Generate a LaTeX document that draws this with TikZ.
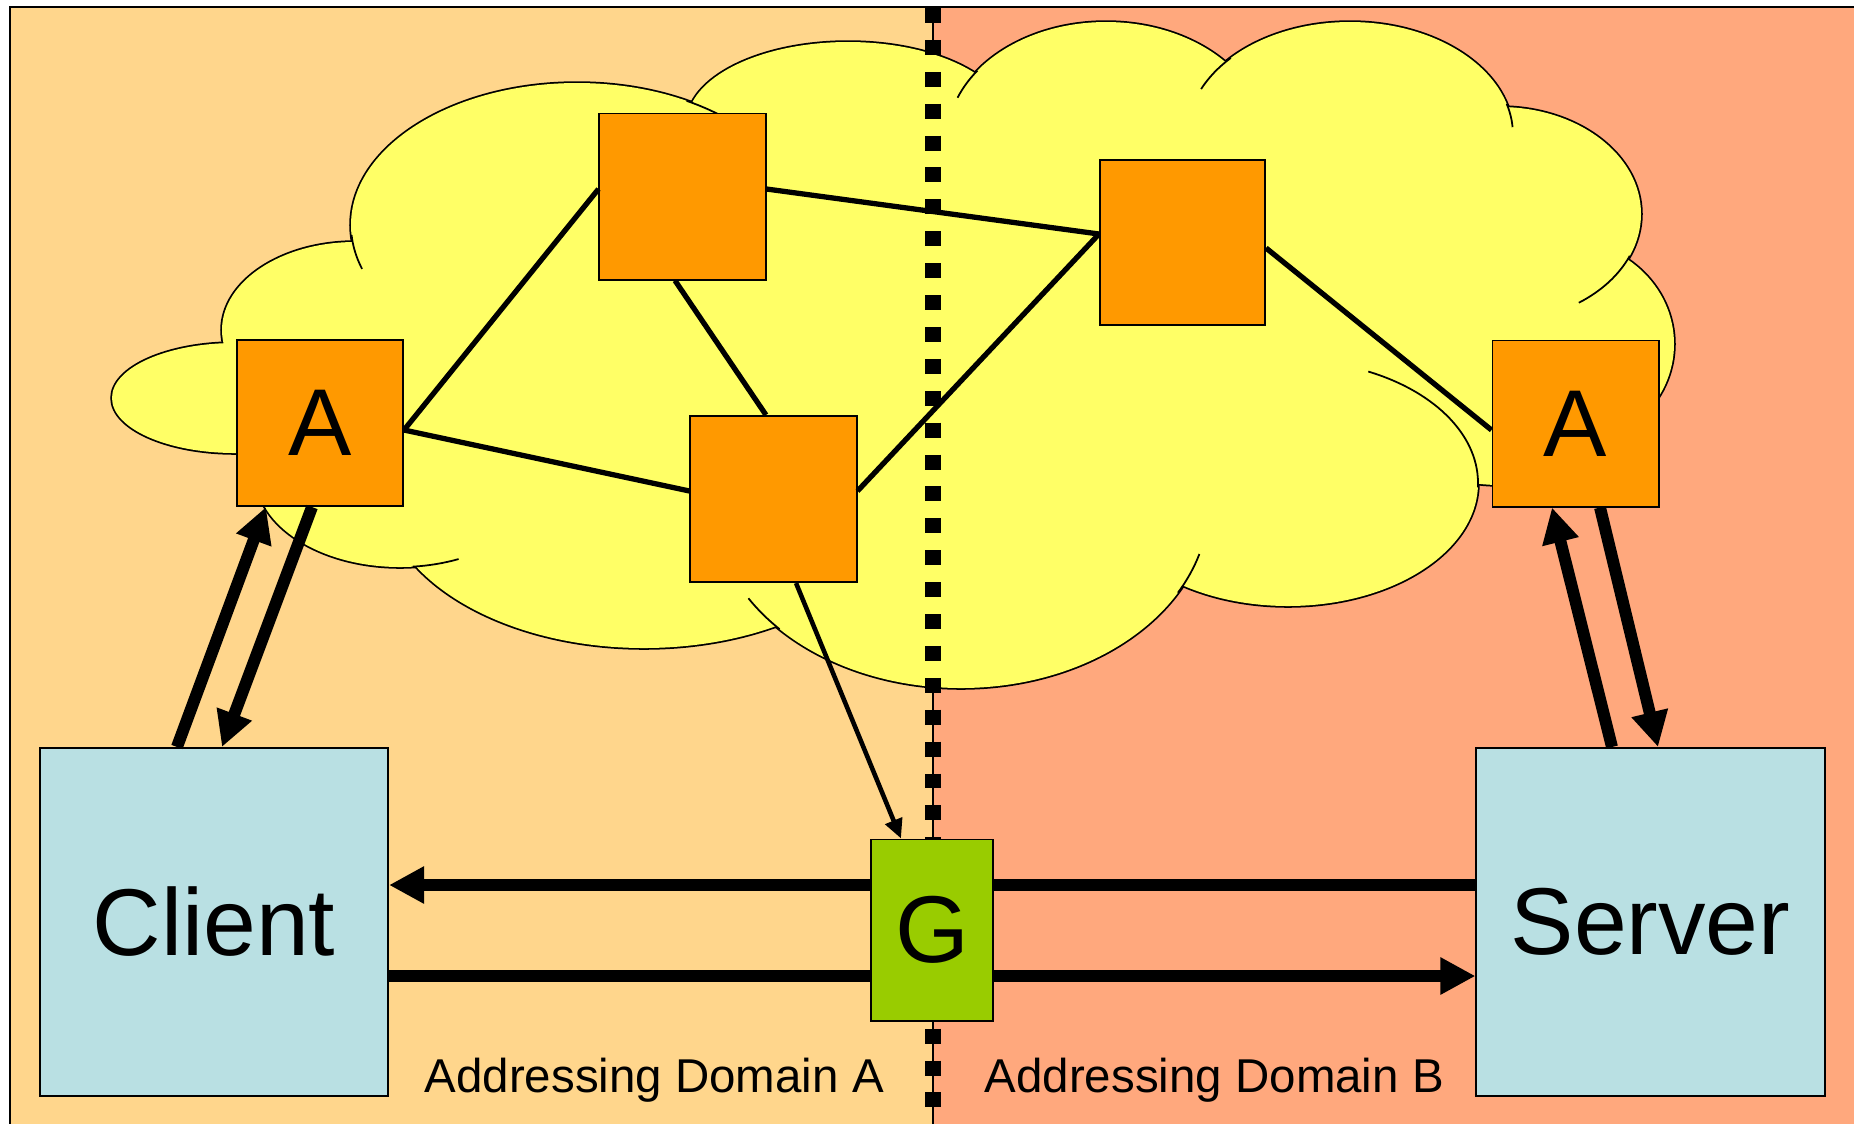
\documentclass[tikz,border=0pt]{standalone}
\usepackage{fontspec}
\setmainfont{Liberation Sans}
\usetikzlibrary{arrows.meta}

\definecolor{domainA}{RGB}{255,214,140}
\definecolor{domainB}{RGB}{255,168,125}
\definecolor{cloudyellow}{RGB}{255,255,102}
\definecolor{routerorange}{RGB}{255,153,0}
\definecolor{hostblue}{RGB}{185,224,227}
\definecolor{gategreen}{RGB}{153,204,0}

\newcommand\hugelabel{\fontsize{27}{32}\selectfont}
\newcommand\domainlabel{\fontsize{13.5}{16}\selectfont}

% the lobes that make up the cloud (centre, x radius, y radius)
\newcommand\cloudlobes[1]{%
  \path[#1] (235,398)  ellipse [x radius=123, y radius=55];
  \path[#1] (355,330)  ellipse [x radius=133, y radius=88];
  \path[#1] (577,225)  ellipse [x radius=226, y radius=142];
  \path[#1] (848,123)  ellipse [x radius=161, y radius=81];
  \path[#1] (1106,140) ellipse [x radius=159, y radius=118];
  \path[#1] (1350,135) ellipse [x radius=163, y radius=113];
  \path[#1] (1500,214) ellipse [x radius=141, y radius=107];
  \path[#1] (1560,344) ellipse [x radius=114, y radius=105];
  \path[#1] (1500,420) ellipse [x radius=110, y radius=65];
  \path[#1] (1288,483) ellipse [x radius=190, y radius=123];
  \path[#1] (961,503)  ellipse [x radius=248, y radius=185];
  \path[#1] (644,487)  ellipse [x radius=262, y radius=161];
  \path[#1] (400,475)  ellipse [x radius=144, y radius=92];
}

\begin{document}
\begin{tikzpicture}[x=0.01cm, y=-0.01cm,
  cloudline/.style={draw=black, line width=0.5pt},
  router/.style={draw=black, line width=0.55pt, fill=routerorange,
    minimum width=1.66cm, minimum height=1.66cm, inner sep=0pt, font=\hugelabel},
  host/.style={draw=black, line width=0.55pt, fill=hostblue,
    minimum width=3.48cm, minimum height=3.48cm, inner sep=0pt, font=\hugelabel},
  gate/.style={draw=black, line width=0.55pt, fill=gategreen,
    minimum width=1.22cm, minimum height=1.81cm, inner sep=0pt, font=\hugelabel},
  link/.style={line width=1.5pt},
  flowline/.style={line width=3.4pt},
  flow/.style={flowline, -{Triangle[length=10pt,width=10pt]}},
  hook/.style={cloudline}]

\useasboundingbox (0,0) rectangle (1854,1123);
\clip (0,0) rectangle (1854,1123);

% the two addressing domains
\fill[white] (0,0) rectangle (1854,1123);
\fill[domainA] (10,7) rectangle (933,1130);
\fill[domainB] (933,7) rectangle (1860,1130);
\draw[line width=0.6pt] (10,1130) -- (10,7) -- (1860,7);
\draw[line width=0.4pt] (933,7) -- (933,1130);

% cloud: outline from doubled strokes, then the fill on top
\cloudlobes{draw=black, line width=1.0pt}
\cloudlobes{fill=cloudyellow}
\fill[cloudyellow] (240,350) -- (365,255) -- (695,115) -- (972,90) -- (1220,75)
  -- (1500,120) -- (1610,265) -- (1600,420) -- (1470,470) -- (1180,570)
  -- (780,610) -- (420,550) -- (300,480) -- cycle;

% inner strokes of the cloud
\draw[hook] (577,225) ++(162:226 and 142) arc[start angle=162, end angle=176, x radius=226, y radius=142];
\draw[hook] (577,225) ++(-61:226 and 142) arc[start angle=-61, end angle=-50, x radius=226, y radius=142];
\draw[hook] (1106,140) ++(201:159 and 118) arc[start angle=201, end angle=216, x radius=159, y radius=118];
\draw[hook] (1350,135) ++(204:163 and 113) arc[start angle=204, end angle=223, x radius=163, y radius=113];
\draw[hook] (1350,135) ++(-16:163 and 113) arc[start angle=-16, end angle=-4, x radius=163, y radius=113];
\draw[hook] (1500,214) ++(23:141 and 107) arc[start angle=23, end angle=56, x radius=141, y radius=107];
\draw[hook] (1288,483) ++(-65:190 and 123) arc[start angle=-65, end angle=2, x radius=190, y radius=123];
\draw[hook] (961,503) ++(16:248 and 185) arc[start angle=16, end angle=29, x radius=248, y radius=185];
\draw[hook] (961,503) ++(137:248 and 185) arc[start angle=137, end angle=149, x radius=248, y radius=185];
\draw[hook] (400,475) ++(66:144 and 92) arc[start angle=66, end angle=85, x radius=144, y radius=92];

% border between the domains
\draw[line width=4.55pt, dash pattern=on 4.25pt off 4.82pt] (933,8) -- (933,1130);

% routers, hosts and gateway
\node[router] (aL) at (320,423) {A};
\node[router] (r1) at (682.5,196.5) {};
\node[router] (r2) at (773.5,499) {};
\node[router, minimum width=1.65cm, minimum height=1.65cm] (r3) at (1182.5,242.5) {};
\node[router] (aR) at (1575.5,423.5) {A};
\node[host] (client) at (214,922) {Client};
\node[host] (server) at (1650.5,922) {Server};
\node[gate] (g) at (932,930) {G};

\node[anchor=base west, font=\domainlabel, inner sep=0pt] (labA) at (424,1092) {Addressing Domain A};
\node[anchor=base west, font=\domainlabel, inner sep=0pt] (labB) at (984,1092) {Addressing Domain B};

% links inside the cloud
\draw[link] ([yshift=-0.07cm]aL.east) -- ([yshift=0.075cm]r1.west);
\draw[link] ([yshift=-0.07cm]aL.east) -- ([yshift=0.08cm]r2.west);
\draw[link] ([xshift=-0.075cm]r1.south) -- ([xshift=-0.075cm]r2.north);
\draw[link] ([yshift=0.075cm]r1.east) -- ([yshift=0.085cm]r3.west);
\draw[link] ([yshift=0.08cm]r2.east) -- ([yshift=0.085cm]r3.west);
\draw[link] ([yshift=-0.055cm]r3.east) -- ([yshift=-0.065cm]aR.west);
\draw[line width=1.3pt, -{Triangle[length=5.5pt,width=5pt]}] ([xshift=0.225cm]r2.south) -- ([xshift=-0.31cm]g.north);

% traffic between hosts, routers and gateway
\coordinate (upper) at (0,885);
\coordinate (lower) at (0,976);
\draw[flow] (g.west |- upper) -- (client.east |- upper);
\draw[flowline] (server.west |- upper) -- (g.east |- upper);
\draw[flowline] (client.east |- lower) -- (g.west |- lower);
\draw[flow] (g.east |- lower) -- (server.west |- lower);

\draw[flow] ([xshift=-0.37cm]client.north) -- ([xshift=-0.54cm]aL.south);
\draw[flow] ([xshift=-0.08cm]aL.south) -- ([xshift=0.08cm]client.north);
\draw[flow] ([xshift=-0.385cm]server.north) -- ([xshift=-0.235cm]aR.south);
\draw[flow] ([xshift=0.245cm]aR.south) -- ([xshift=0.075cm]server.north);

\end{tikzpicture}
\end{document}
